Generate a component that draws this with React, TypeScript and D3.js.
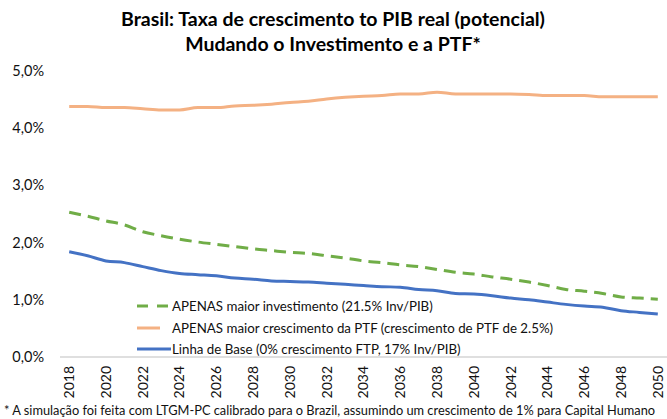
import * as React from "react";
import * as d3 from "d3";

const years = [
  "2018", "2019", "2020", "2021", "2022", "2023", "2024", "2025", "2026", "2027", "2028",
  "2029", "2030", "2031", "2032", "2033", "2034", "2035", "2036", "2037", "2038", "2039",
  "2040", "2041", "2042", "2043", "2044", "2045", "2046", "2047", "2048", "2049", "2050",
];

// APENAS maior crescimento da PTF
const ptfSeries = [
  4.38, 4.38, 4.36, 4.36, 4.34, 4.32, 4.32, 4.36, 4.36, 4.39, 4.40,
  4.42, 4.45, 4.47, 4.51, 4.54, 4.56, 4.57, 4.60, 4.60, 4.63, 4.60,
  4.60, 4.60, 4.60, 4.59, 4.57, 4.57, 4.57, 4.55, 4.55, 4.55, 4.55,
];

// APENAS maior investimento
const invSeries = [
  2.53, 2.46, 2.38, 2.31, 2.19, 2.12, 2.06, 2.01, 1.97, 1.93, 1.89,
  1.86, 1.83, 1.81, 1.77, 1.73, 1.68, 1.65, 1.61, 1.58, 1.53, 1.48,
  1.45, 1.40, 1.36, 1.31, 1.25, 1.18, 1.15, 1.11, 1.05, 1.03, 1.01,
];

// Linha de Base
const baseSeries = [
  1.84, 1.77, 1.68, 1.65, 1.58, 1.51, 1.46, 1.44, 1.42, 1.38, 1.36,
  1.33, 1.32, 1.31, 1.29, 1.27, 1.25, 1.23, 1.22, 1.18, 1.16, 1.11,
  1.10, 1.07, 1.03, 1.00, 0.96, 0.92, 0.89, 0.87, 0.81, 0.78, 0.75,
];

const yTicks = [0, 1, 2, 3, 4, 5];

const legendLabels = [
  "APENAS maior investimento (21.5% Inv/PIB)",
  "APENAS maior crescimento da PTF (crescimento de PTF de 2.5%)",
  "Linha de Base (0% crescimento FTP, 17% Inv/PIB)",
];

const W = 667;
const H = 419;
const font = "Lato, 'Open Sans', sans-serif";

const App = () => {
  const x = d3.scalePoint<string>().domain(years).range([60, 667]).padding(0.5);
  const y = d3.scaleLinear().domain([0, 5]).range([357, 71]);
  const fmt = (v: number) => d3.format(".1f")(v).replace(".", ",") + "%";

  const line = d3
    .line<number>()
    .x((_, i) => x(years[i]) as number)
    .y((d) => y(d))
    .curve(d3.curveMonotoneX);

  const series = [
    { data: ptfSeries, color: "#F4B183", dash: undefined },
    { data: invSeries, color: "#70AD47", dash: "12,7" },
    { data: baseSeries, color: "#4472C4", dash: undefined },
  ];

  const legend = [
    { label: legendLabels[0], color: "#70AD47", dash: "11,9", x2: 171 },
    { label: legendLabels[1], color: "#F4B183", dash: undefined, x2: 160 },
    { label: legendLabels[2], color: "#4472C4", dash: undefined, x2: 171 },
  ];
  const legendY = [306, 328, 349];

  return (
    <div style={{ position: "absolute", left: 0, top: 0 }}>
      <svg width={W} height={H} style={{ fontFamily: font, display: "block" }}>
        <rect width={W} height={H} fill="#fff" />
        <text x={333} y={26} textAnchor="middle" fontSize={19.5} fontWeight="bold" fill="#000">
          Brasil: Taxa de crescimento to PIB real (potencial)
        </text>
        <text x={333} y={51} textAnchor="middle" fontSize={19.5} fontWeight="bold" fill="#000">
          Mudando o Investimento e a PTF*
        </text>

        {yTicks.map((t) => (
          <text key={t} x={44} y={y(t)} dy="0.35em" textAnchor="end" fontSize={14.5} fill="#111">
            {fmt(t)}
          </text>
        ))}

        <line x1={60} x2={667} y1={y(0)} y2={y(0)} stroke="#bfbfbf" strokeWidth={1} />

        {years.filter((_, i) => i % 2 === 0).map((yr) => (
          <text
            key={yr}
            transform={`translate(${x(yr)},${366}) rotate(-90)`}
            dy="0.35em"
            textAnchor="end"
            fontSize={14}
            fill="#111"
          >
            {yr}
          </text>
        ))}

        {series.map((s, i) => (
          <path
            key={i}
            d={line(s.data) || ""}
            fill="none"
            stroke={s.color}
            strokeWidth={3}
            strokeDasharray={s.dash}
          />
        ))}

        {legend.map((l, i) => (
          <g key={i}>
            <line x1={137} x2={l.x2} y1={legendY[i]} y2={legendY[i]} stroke={l.color} strokeWidth={3} strokeDasharray={l.dash} />
            <text x={172} y={legendY[i]} dy="0.35em" fontSize={13.3} fill="#111">
              {l.label}
            </text>
          </g>
        ))}

        <text x={4} y={415} fontSize={12.8} fill="#111">
          * A simulação foi feita com LTGM-PC calibrado para o Brazil, assumindo um crescimento de 1% para Capital Humano
        </text>
      </svg>
    </div>
  );
};

export default App;
